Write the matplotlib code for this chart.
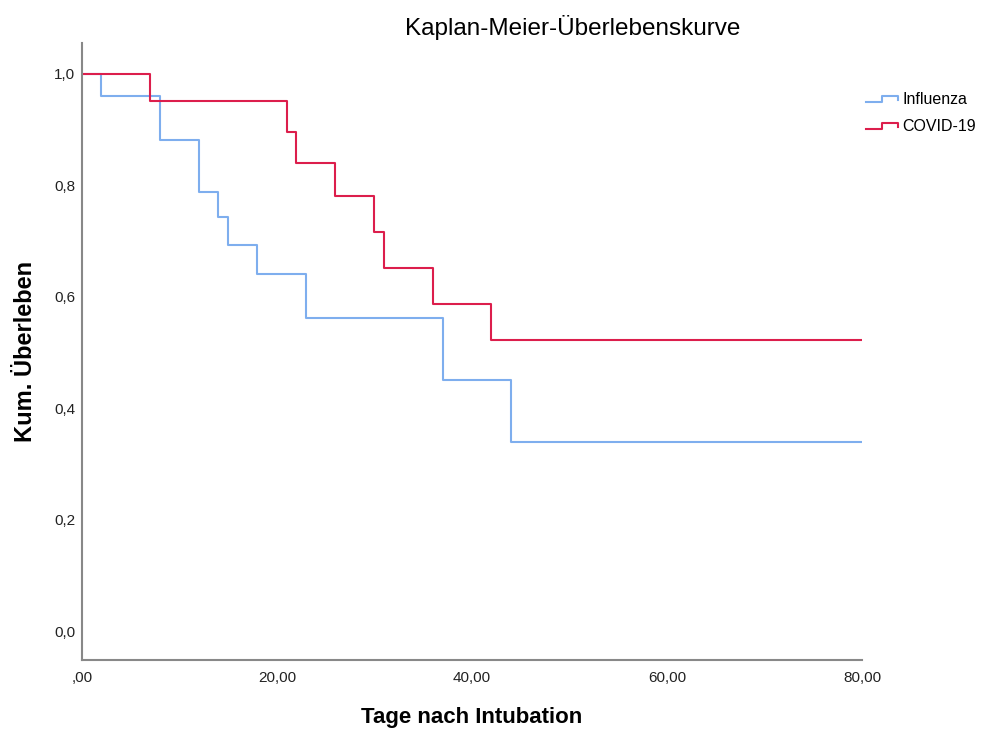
import matplotlib
matplotlib.use("Agg")
import matplotlib.pyplot as plt
from matplotlib.lines import Line2D
from matplotlib.legend_handler import HandlerBase
from matplotlib.ticker import FuncFormatter

# Kaplan-Meier step data (time in days, cumulative survival)
influenza_t = [0, 2, 8, 12, 14, 15, 18, 23, 37, 44, 80]
influenza_s = [1.0, 0.961, 0.882, 0.789, 0.743, 0.694, 0.641, 0.562, 0.451, 0.339, 0.339]
covid_t = [0, 7, 21, 22, 26, 30, 31, 36, 42, 80]
covid_s = [1.0, 0.951, 0.895, 0.840, 0.781, 0.716, 0.651, 0.587, 0.522, 0.522]

x_ticks = [0, 20, 40, 60, 80]
y_ticks = [0.0, 0.2, 0.4, 0.6, 0.8, 1.0]

blue = "#7EAEEE"
red = "#DC1E4C"

plt.rcParams["font.family"] = ["Liberation Sans", "DejaVu Sans"]


class StepHandler(HandlerBase):
    """legend icon drawn as a little step, like SPSS does"""
    def create_artists(self, legend, orig_handle, xdescent, ydescent,
                       width, height, fontsize, trans):
        x0 = -xdescent
        y0 = -ydescent
        xs = [x0, x0 + width * 0.5, x0 + width * 0.5, x0 + width, x0 + width]
        ys = [y0 + height * 0.15, y0 + height * 0.15, y0 + height * 0.75,
              y0 + height * 0.75, y0 + height * 0.35]
        ln = Line2D(xs, ys, color=orig_handle.get_color(),
                    lw=orig_handle.get_linewidth(), transform=trans)
        return [ln]


fig = plt.figure(figsize=(9.84, 7.33), dpi=100)
ax = fig.add_axes([0.0833, 0.0996, 0.7927, 0.8417])

l1, = ax.step(influenza_t, influenza_s, where="post", color=blue, lw=1.5, label="Influenza")
l2, = ax.step(covid_t, covid_s, where="post", color=red, lw=1.5, label="COVID-19")

ax.set_xlim(0, 80)
ax.set_ylim(-0.0513, 1.0554)
ax.set_xticks(x_ticks)
ax.set_yticks(y_ticks)


def fmt_x(v, pos):
    if v == 0:
        return ",00"
    return f"{v:.2f}".replace(".", ",")


def fmt_y(v, pos):
    return f"{v:.1f}".replace(".", ",")


ax.xaxis.set_major_formatter(FuncFormatter(fmt_x))
ax.yaxis.set_major_formatter(FuncFormatter(fmt_y))
ax.tick_params(length=0, labelsize=11, colors="#222222")
ax.tick_params(axis="x", pad=8)
ax.tick_params(axis="y", pad=5)

for s in ["top", "right"]:
    ax.spines[s].set_visible(False)
for s in ["left", "bottom"]:
    ax.spines[s].set_color("#888888")
    ax.spines[s].set_linewidth(1.5)

ax.set_xlabel("Tage nach Intubation", fontsize=16, fontweight="bold")
ax.set_ylabel("Kum. Überleben", fontsize=17, fontweight="bold")
ax.xaxis.set_label_coords(0.5, -0.094)
ax.yaxis.set_label_coords(-0.072, 0.5)
ax.xaxis.label.set_va("center")
ax.yaxis.label.set_va("center")
fig.text(573 / 984, 1 - 28 / 733, "Kaplan-Meier-Überlebenskurve", ha="center", va="center",
         fontsize=17.5)

leg = ax.legend(handles=[l1, l2], handler_map={Line2D: StepHandler()},
                loc="upper left", bbox_to_anchor=(866 / 984, 1 - 92 / 733),
                bbox_transform=fig.transFigure, frameon=False, fontsize=11.5,
                handlelength=2.0, handletextpad=0.3, labelspacing=0.75,
                borderpad=0, borderaxespad=0)

fig.savefig("out.png", dpi=100)
